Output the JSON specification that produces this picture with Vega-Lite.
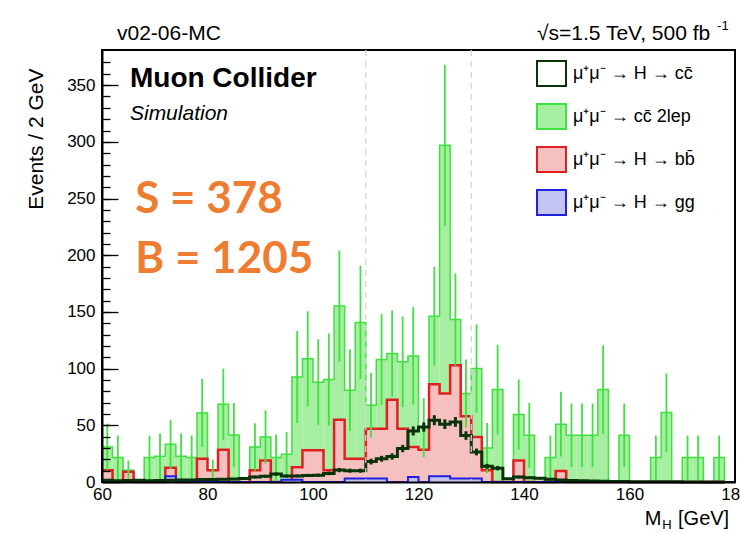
{
  "$schema": "https://vega.github.io/schema/vega-lite/v6.json",
  "width": 633,
  "height": 432,
  "autosize": {"type": "none"},
  "padding": {"left": 102, "top": 50, "right": 5, "bottom": 51},
  "background": "white",
  "config": {"view": {"stroke": "black", "strokeWidth": 2}, "font": "Liberation Sans"},
  "resolve": {"axis": {"x": "independent", "y": "independent"}},
  "data": {"values": [
    {"lo":60,"hi":62,"c":61,"g":30.9,"ge":20.6,"r":10.3,"b":0,"s":1.5,"se":0.7},
    {"lo":62,"hi":64,"c":63,"g":21.5,"ge":19.5,"r":0,"b":0,"s":1.2,"se":0.7},
    {"lo":64,"hi":66,"c":65,"g":10.3,"ge":8.7,"r":9,"b":0,"s":1.4,"se":0.7},
    {"lo":66,"hi":68,"c":67,"g":0,"ge":0,"r":0,"b":0,"s":1.6,"se":0.7},
    {"lo":68,"hi":70,"c":69,"g":21.5,"ge":19.4,"r":0,"b":0,"s":1.2,"se":0.7},
    {"lo":70,"hi":72,"c":71,"g":22.7,"ge":20,"r":0,"b":0,"s":1.4,"se":0.7},
    {"lo":72,"hi":74,"c":73,"g":33.3,"ge":21.7,"r":12.5,"b":5,"s":1.6,"se":0.7},
    {"lo":74,"hi":76,"c":75,"g":22.7,"ge":20,"r":0,"b":0,"s":1.8,"se":0.8},
    {"lo":76,"hi":78,"c":77,"g":21.5,"ge":19.5,"r":0,"b":0,"s":1.8,"se":0.8},
    {"lo":78,"hi":80,"c":79,"g":60.9,"ge":30,"r":20.6,"b":0,"s":2.2,"se":0.8},
    {"lo":80,"hi":82,"c":81,"g":10.3,"ge":9.4,"r":10.3,"b":0,"s":2.2,"se":0.8},
    {"lo":82,"hi":84,"c":83,"g":68.6,"ge":31.4,"r":28.5,"b":0,"s":2.4,"se":0.9},
    {"lo":84,"hi":86,"c":85,"g":41.5,"ge":28,"r":0,"b":0,"s":2.6,"se":0.9},
    {"lo":86,"hi":88,"c":87,"g":0,"ge":0,"r":0,"b":0,"s":3,"se":1},
    {"lo":88,"hi":90,"c":89,"g":30.9,"ge":21,"r":10.3,"b":0,"s":4.4,"se":1.2},
    {"lo":90,"hi":92,"c":91,"g":39.7,"ge":23.5,"r":19,"b":0,"s":5,"se":1.3},
    {"lo":92,"hi":94,"c":93,"g":21.5,"ge":20.3,"r":0,"b":0,"s":7,"se":1.5},
    {"lo":94,"hi":96,"c":95,"g":24.4,"ge":19.6,"r":0,"b":2,"s":5.2,"se":1.3},
    {"lo":96,"hi":98,"c":97,"g":92.7,"ge":40.6,"r":13,"b":2,"s":5.4,"se":1.3},
    {"lo":98,"hi":100,"c":99,"g":108.6,"ge":42,"r":28,"b":0,"s":5.8,"se":1.4},
    {"lo":100,"hi":102,"c":101,"g":88,"ge":38,"r":28,"b":0,"s":6,"se":1.4},
    {"lo":102,"hi":104,"c":103,"g":90.4,"ge":40.6,"r":10.3,"b":0,"s":7.6,"se":1.6},
    {"lo":104,"hi":106,"c":105,"g":155.3,"ge":49,"r":55,"b":0,"s":10.5,"se":1.9},
    {"lo":106,"hi":108,"c":107,"g":81,"ge":36,"r":20.6,"b":3,"s":10,"se":1.8},
    {"lo":108,"hi":110,"c":109,"g":140.7,"ge":50,"r":20.6,"b":3,"s":10,"se":1.8},
    {"lo":110,"hi":112,"c":111,"g":67.7,"ge":28.5,"r":47,"b":3,"s":18,"se":2.5},
    {"lo":112,"hi":114,"c":113,"g":108,"ge":40,"r":47,"b":3,"s":20.5,"se":2.6},
    {"lo":114,"hi":116,"c":115,"g":113.3,"ge":38,"r":72.6,"b":0,"s":22.5,"se":2.8},
    {"lo":116,"hi":118,"c":117,"g":106,"ge":40,"r":47,"b":0,"s":29.5,"se":3.2},
    {"lo":118,"hi":120,"c":119,"g":111.2,"ge":43,"r":30.9,"b":4.4,"s":45,"se":4},
    {"lo":120,"hi":122,"c":121,"g":48,"ge":26,"r":28.5,"b":0,"s":48.5,"se":4.1},
    {"lo":122,"hi":124,"c":123,"g":146.2,"ge":43.6,"r":86.2,"b":5,"s":54.5,"se":4.4},
    {"lo":124,"hi":126,"c":125,"g":297,"ge":71,"r":78,"b":5,"s":51,"se":4.2},
    {"lo":126,"hi":128,"c":127,"g":143.3,"ge":40.7,"r":103,"b":3,"s":53,"se":4.3},
    {"lo":128,"hi":130,"c":129,"g":78,"ge":30,"r":58,"b":3,"s":41,"se":3.8},
    {"lo":130,"hi":132,"c":131,"g":100,"ge":39,"r":39.7,"b":3,"s":26.5,"se":3},
    {"lo":132,"hi":134,"c":133,"g":30,"ge":22,"r":10.3,"b":0,"s":13.8,"se":2.2},
    {"lo":134,"hi":136,"c":135,"g":81.5,"ge":39.5,"r":0,"b":0,"s":12.2,"se":2},
    {"lo":136,"hi":138,"c":137,"g":0,"ge":0,"r":0,"b":0,"s":2.8,"se":1},
    {"lo":138,"hi":140,"c":139,"g":59.5,"ge":31,"r":19,"b":0,"s":4.4,"se":1.2},
    {"lo":140,"hi":142,"c":141,"g":41.2,"ge":28.5,"r":0,"b":0,"s":3.8,"se":1.1},
    {"lo":142,"hi":144,"c":143,"g":0,"ge":0,"r":0,"b":0,"s":3.2,"se":1},
    {"lo":144,"hi":146,"c":145,"g":21.5,"ge":19.5,"r":0,"b":0,"s":2.4,"se":0.9},
    {"lo":146,"hi":148,"c":147,"g":51,"ge":28.5,"r":9.7,"b":0,"s":1.8,"se":0.8},
    {"lo":148,"hi":150,"c":149,"g":41.2,"ge":28,"r":0,"b":0,"s":1.4,"se":0.7},
    {"lo":150,"hi":152,"c":151,"g":41.2,"ge":28,"r":0,"b":0,"s":1,"se":0.6},
    {"lo":152,"hi":154,"c":153,"g":41.2,"ge":28,"r":0,"b":0,"s":0.8,"se":0.5},
    {"lo":154,"hi":156,"c":155,"g":81.5,"ge":39,"r":0,"b":0,"s":0.6,"se":0.5},
    {"lo":156,"hi":158,"c":157,"g":0,"ge":0,"r":0,"b":0,"s":0.5,"se":0.4},
    {"lo":158,"hi":160,"c":159,"g":41.2,"ge":28,"r":0,"b":0,"s":0.4,"se":0.4},
    {"lo":160,"hi":162,"c":161,"g":0,"ge":0,"r":0,"b":0,"s":0.3,"se":0.3},
    {"lo":162,"hi":164,"c":163,"g":0,"ge":0,"r":0,"b":0,"s":0.3,"se":0.3},
    {"lo":164,"hi":166,"c":165,"g":21.5,"ge":19.5,"r":0,"b":0,"s":0.2,"se":0.3},
    {"lo":166,"hi":168,"c":167,"g":61.2,"ge":34.5,"r":0,"b":0,"s":0.2,"se":0.3},
    {"lo":168,"hi":170,"c":169,"g":0,"ge":0,"r":0,"b":0,"s":0.2,"se":0.3},
    {"lo":170,"hi":172,"c":171,"g":21.5,"ge":19.5,"r":0,"b":0,"s":0.1,"se":0.2},
    {"lo":172,"hi":174,"c":173,"g":21.5,"ge":19.5,"r":0,"b":0,"s":0.1,"se":0.2},
    {"lo":174,"hi":176,"c":175,"g":0,"ge":0,"r":0,"b":0,"s":0.1,"se":0.2},
    {"lo":176,"hi":178,"c":177,"g":21.5,"ge":19.5,"r":0,"b":0,"s":0.1,"se":0.2},
    {"lo":178,"hi":180,"c":179,"g":0,"ge":0,"r":0,"b":0,"s":0.1,"se":0.2}
  ]},
  "layer": [
    {
      "transform": [{"fold": ["g"], "as": ["key", "val"]}],
      "mark": {"type": "rect"},
      "encoding": {
        "x": {"field": "lo", "type": "quantitative",
              "scale": {"domain": [60, 180], "nice": false, "zero": false},
              "axis": {"title": null, "values": [60, 80, 100, 120, 140, 160, 180], "format": "d",
                       "labelFontSize": 17, "labelFont": "Liberation Sans", "labelColor": "black",
                       "labelPadding": 4, "ticks": false, "domainColor": "black", "domainWidth": 2,
                       "labelFlush": false, "labelOverlap": false, "grid": false, "zindex": 1}},
        "x2": {"field": "hi"},
        "y": {"field": "val", "type": "quantitative",
              "scale": {"domain": [0, 381], "nice": false},
              "axis": {"title": "Events / 2 GeV", "orient": "left",
                       "values": [0,10,20,30,40,50,60,70,80,90,100,110,120,130,140,150,160,170,180,190,200,210,220,230,240,250,260,270,280,290,300,310,320,330,340,350,360,370],
                       "labelExpr": "datum.value % 50 === 0 ? datum.label : ''",
                       "tickSize": -8, "tickColor": "black", "tickWidth": 1.3,
                       "labelPadding": 15, "labelFontSize": 17, "labelFont": "Liberation Sans", "labelColor": "black",
                       "labelOverlap": false,
                       "domainColor": "black", "domainWidth": 2, "grid": false, "zindex": 1,
                       "titleFont": "Liberation Sans", "titleFontSize": 21, "titleFontWeight": "normal", "titleColor": "black",
                       "titleAngle": 270, "titleAlign": "right", "titleBaseline": "alphabetic", "titleX": -60, "titleY": 18}},
        "y2": {"datum": 0},
        "fill": {"field": "key", "type": "nominal",
                 "scale": {"domain": ["s", "g", "r", "b"], "range": ["#ffffff", "#a6eea0", "#f7c0c0", "#c4c4f4"]},
                 "legend": {"title": null, "orient": "none", "legendX": 436, "legendY": 10,
                            "symbolType": "M-1.16,-1H1.16V1H-1.16Z", "symbolSize": 625,
                            "labelFontSize": 18, "labelFont": "Liberation Sans", "labelColor": "black",
                            "rowPadding": 10, "labelOffset": 8, "padding": 0, "symbolOpacity": 1, "symbolStrokeWidth": 2,
                            "labelExpr": "{'s':'μ⁺μ⁻ → H → cc\u0304','g':'μ⁺μ⁻ →  cc\u0304 2lep','r':'μ⁺μ⁻ → H → bb\u0304','b':'μ⁺μ⁻ → H → gg'}[datum.value]",
                            "encode": {"symbols": {"update": {"strokeWidth": {"condition": {"test": "datum.value === 's'", "value": 3.5}, "value": 2}}}}}}
      }
    },
    {
      "transform": [{"fold": ["g"], "as": ["key", "val"]}],
      "mark": {"type": "line", "interpolate": "step-after", "strokeWidth": 1.5},
      "encoding": {
        "x": {"field": "lo", "type": "quantitative", "axis": null},
        "y": {"field": "val", "type": "quantitative",
              "axis": {"orient": "left", "title": null, "values": [0, 50, 100, 150, 200, 250, 300, 350],
                       "tickSize": -16, "tickColor": "black", "tickWidth": 1.3, "labels": false,
                       "domain": false, "grid": false, "zindex": 1}},
        "stroke": {"field": "key", "type": "nominal",
                   "scale": {"domain": ["s", "g", "r", "b"], "range": ["#0a330a", "#3fe03f", "#e02020", "#2020dd"]},
                   "legend": {"title": null, "orient": "none", "legendX": 436, "legendY": 10,
                            "symbolType": "M-1.16,-1H1.16V1H-1.16Z", "symbolSize": 625,
                            "labelFontSize": 18, "labelFont": "Liberation Sans", "labelColor": "black",
                            "rowPadding": 10, "labelOffset": 8, "padding": 0, "symbolOpacity": 1, "symbolStrokeWidth": 2,
                            "labelExpr": "{'s':'μ⁺μ⁻ → H → cc\u0304','g':'μ⁺μ⁻ →  cc\u0304 2lep','r':'μ⁺μ⁻ → H → bb\u0304','b':'μ⁺μ⁻ → H → gg'}[datum.value]",
                            "encode": {"symbols": {"update": {"strokeWidth": {"condition": {"test": "datum.value === 's'", "value": 3.5}, "value": 2}}}}}}
      }
    },
    {
      "transform": [{"fold": ["r"], "as": ["key", "val"]}],
      "mark": {"type": "rect"},
      "encoding": {
        "x": {"field": "lo", "type": "quantitative", "axis": null},
        "x2": {"field": "hi"},
        "y": {"field": "val", "type": "quantitative", "axis": null},
        "y2": {"datum": 0},
        "fill": {"field": "key", "type": "nominal"}
      }
    },
    {
      "transform": [{"fold": ["r"], "as": ["key", "val"]}],
      "mark": {"type": "line", "interpolate": "step-after", "strokeWidth": 2.5},
      "encoding": {
        "x": {"field": "lo", "type": "quantitative", "axis": null},
        "y": {"field": "val", "type": "quantitative", "axis": null},
        "stroke": {"field": "key", "type": "nominal"}
      }
    },
    {
      "transform": [{"fold": ["b"], "as": ["key", "val"]}],
      "mark": {"type": "rect"},
      "encoding": {
        "x": {"field": "lo", "type": "quantitative", "axis": null},
        "x2": {"field": "hi"},
        "y": {"field": "val", "type": "quantitative", "axis": null},
        "y2": {"datum": 0},
        "fill": {"field": "key", "type": "nominal"}
      }
    },
    {
      "transform": [{"fold": ["b"], "as": ["key", "val"]}],
      "mark": {"type": "line", "interpolate": "step-after", "strokeWidth": 2},
      "encoding": {
        "x": {"field": "lo", "type": "quantitative", "axis": null},
        "y": {"field": "val", "type": "quantitative", "axis": null},
        "stroke": {"field": "key", "type": "nominal"}
      }
    },
    {
      "transform": [{"filter": "datum.g > 0"}],
      "mark": {"type": "errorbar", "color": "#3fe03f", "thickness": 1.8},
      "encoding": {
        "x": {"field": "c", "type": "quantitative", "axis": null},
        "y": {"field": "g", "type": "quantitative", "axis": null},
        "yError": {"field": "ge"}
      }
    },
    {
      "transform": [{"fold": ["s"], "as": ["key", "val"]}],
      "mark": {"type": "line", "interpolate": "step-after", "strokeWidth": 3},
      "encoding": {
        "x": {"field": "lo", "type": "quantitative", "axis": null},
        "y": {"field": "val", "type": "quantitative", "axis": null},
        "stroke": {"field": "key", "type": "nominal"}
      }
    },
    {
      "transform": [{"filter": "datum.s >= 1"}],
      "mark": {"type": "errorbar", "color": "#0a330a", "thickness": 3},
      "encoding": {
        "x": {"field": "c", "type": "quantitative", "axis": null},
        "y": {"field": "s", "type": "quantitative", "axis": null},
        "yError": {"field": "se"}
      }
    },
    {
      "data": {"values": [{"m": 110}, {"m": 130}]},
      "mark": {"type": "rule", "color": "#d4d4d4", "strokeWidth": 1.3, "strokeDash": [6, 5]},
      "encoding": {"x": {"field": "m", "type": "quantitative", "axis": null}}
    },
    {
      "data": {"values": [{}]},
      "mark": {"type": "text", "text": "Muon Collider", "align": "left", "baseline": "alphabetic", "fontSize": 28, "fontWeight": "bold", "font": "Liberation Sans", "color": "black"},
      "encoding": {"x": {"datum": 65.3, "type": "quantitative", "axis": null}, "y": {"datum": 348.4, "type": "quantitative", "axis": null}}
    },
    {
      "data": {"values": [{}]},
      "mark": {"type": "text", "text": "Simulation", "align": "left", "baseline": "alphabetic", "fontSize": 21, "fontStyle": "italic", "font": "Liberation Sans", "color": "black"},
      "encoding": {"x": {"datum": 65.3, "type": "quantitative", "axis": null}, "y": {"datum": 319.2, "type": "quantitative", "axis": null}}
    },
    {
      "data": {"values": [{}]},
      "mark": {"type": "text", "text": "S = 378", "align": "left", "baseline": "alphabetic", "fontSize": 44, "fontWeight": "bold", "font": "Lato", "color": "#ef7d31"},
      "encoding": {"x": {"datum": 66.3, "type": "quantitative", "axis": null}, "y": {"datum": 237.2, "type": "quantitative", "axis": null}}
    },
    {
      "data": {"values": [{}]},
      "mark": {"type": "text", "text": "B = 1205", "align": "left", "baseline": "alphabetic", "fontSize": 44, "fontWeight": "bold", "font": "Lato", "color": "#ef7d31"},
      "encoding": {"x": {"datum": 66.3, "type": "quantitative", "axis": null}, "y": {"datum": 184.2, "type": "quantitative", "axis": null}}
    },
    {
      "data": {"values": [{}]},
      "mark": {"type": "text", "text": "v02-06-MC", "align": "left", "baseline": "alphabetic", "fontSize": 21, "font": "Liberation Sans", "color": "black"},
      "encoding": {"x": {"datum": 62.84, "type": "quantitative", "axis": null}, "y": {"datum": 389.8, "type": "quantitative", "axis": null}}
    },
    {
      "data": {"values": [{}]},
      "mark": {"type": "text", "text": "√s=1.5 TeV, 500 fb", "align": "right", "baseline": "alphabetic", "fontSize": 21, "font": "Liberation Sans", "color": "black"},
      "encoding": {"x": {"datum": 175.3, "type": "quantitative", "axis": null}, "y": {"datum": 389.8, "type": "quantitative", "axis": null}}
    },
    {
      "data": {"values": [{}]},
      "mark": {"type": "text", "text": "-1", "align": "left", "baseline": "alphabetic", "fontSize": 13, "font": "Liberation Sans", "color": "black"},
      "encoding": {"x": {"datum": 176.6, "type": "quantitative", "axis": null}, "y": {"datum": 398.7, "type": "quantitative", "axis": null}}
    },
    {
      "data": {"values": [{}]},
      "mark": {"type": "text", "text": "M", "align": "left", "baseline": "alphabetic", "fontSize": 20, "font": "Liberation Sans", "color": "black"},
      "encoding": {"x": {"datum": 162.9, "type": "quantitative", "axis": null}, "y": {"datum": -38, "type": "quantitative", "axis": null}}
    },
    {
      "data": {"values": [{}]},
      "mark": {"type": "text", "text": "H", "align": "left", "baseline": "alphabetic", "fontSize": 13, "font": "Liberation Sans", "color": "black"},
      "encoding": {"x": {"datum": 166.2, "type": "quantitative", "axis": null}, "y": {"datum": -41.7, "type": "quantitative", "axis": null}}
    },
    {
      "data": {"values": [{}]},
      "mark": {"type": "text", "text": "[GeV]", "align": "left", "baseline": "alphabetic", "fontSize": 20, "font": "Liberation Sans", "color": "black"},
      "encoding": {"x": {"datum": 169.2, "type": "quantitative", "axis": null}, "y": {"datum": -38, "type": "quantitative", "axis": null}}
    }
  ]
}
